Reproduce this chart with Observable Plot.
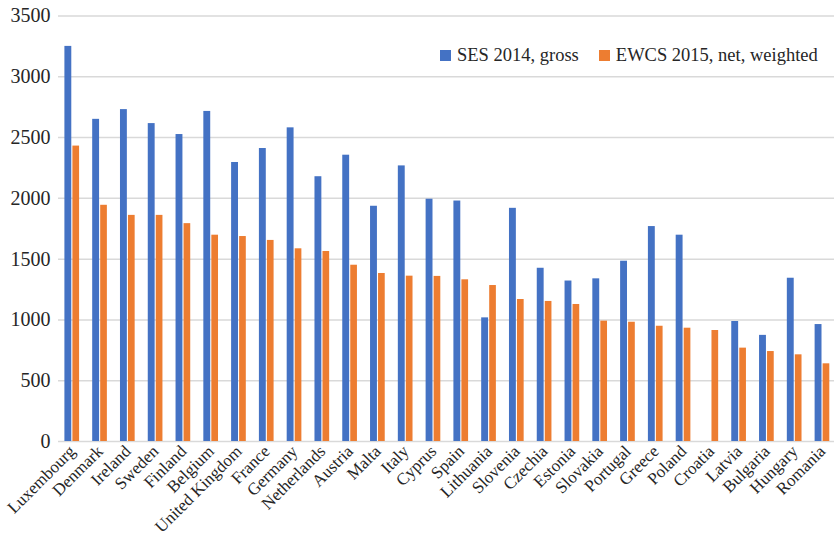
<!DOCTYPE html>
<html><head><meta charset="utf-8">
<script src="https://cdn.jsdelivr.net/npm/d3@7"></script>
<script src="https://cdn.jsdelivr.net/npm/@observablehq/plot@0.6"></script>
<style>
body{margin:0;background:#fff;}
#wrap{position:relative;width:834px;height:542px;}
#wrap svg text{font-family:"Liberation Serif","DejaVu Serif","Times New Roman",serif;}
.legend{position:absolute;top:45px;left:440px;font-family:"Liberation Serif","DejaVu Serif","Times New Roman",serif;font-size:18.5px;color:#262626;display:flex;align-items:center;white-space:nowrap}
.sw{display:inline-block;width:11px;height:11px;margin-right:6px}
</style></head><body><div id="wrap"></div>
<script>
const countries = ["Luxembourg","Denmark","Ireland","Sweden","Finland","Belgium","United Kingdom","France","Germany","Netherlands","Austria","Malta","Italy","Cyprus","Spain","Lithuania","Slovenia","Czechia","Estonia","Slovakia","Portugal","Greece","Poland","Croatia","Latvia","Bulgaria","Hungary","Romania"];
const ses = [3250,2650,2730,2615,2525,2715,2295,2410,2580,2178,2355,1935,2267,1993,1978,1017,1918,1425,1320,1338,1483,1768,1697,null,987,873,1343,962];
const ewcs = [2430,1943,1860,1860,1792,1697,1686,1654,1585,1563,1450,1382,1360,1358,1330,1283,1168,1152,1127,990,981,948,932,913,768,740,713,639];
const yTicks = [0,500,1000,1500,2000,2500,3000,3500];
const seriesNames = ["SES 2014, gross","EWCS 2015, net, weighted"];
const colors = ["#4472C4","#ED7D31"];

const sesRows = countries.map((c,i)=>({country:c, value:ses[i]}));
const ewcsRows = countries.map((c,i)=>({country:c, value:ewcs[i]}));

const chart = Plot.plot({
  width:834, height:542,
  marginLeft:58, marginRight:-2, marginTop:15.5, marginBottom:101,
  x:{domain:countries, padding:0, round:false, label:null},
  y:{domain:[0,3500], label:null},
  style:{fontFamily:"'Liberation Serif', serif", background:"#fff", color:"#262626"},
  marks:[
    Plot.ruleY(yTicks,{stroke:"#d9d9d9", strokeWidth:1.5}),
    Plot.barY(sesRows,{x:"country", y:"value", fill:colors[0], insetLeft:6.4, insetRight:14.5}),
    Plot.barY(ewcsRows,{x:"country", y:"value", fill:colors[1], insetLeft:14.4, insetRight:6.7}),
    Plot.axisY({ticks:yTicks, tickFormat:d=>String(d), tickSize:0, tickPadding:8, fontSize:20, label:null}),
    Plot.axisX({tickSize:0, tickPadding:7, tickRotate:-45, fontSize:17, label:null})
  ]
});
const wrap = document.getElementById("wrap");
wrap.appendChild(chart);
const lg = document.createElement("div");
lg.className = "legend";
lg.innerHTML = seriesNames.map((n,i)=>`<span class="sw" style="background:${colors[i]}"></span><span style="margin-right:${i===0?20:0}px">${n}</span>`).join("");
wrap.appendChild(lg);
</script></body></html>
